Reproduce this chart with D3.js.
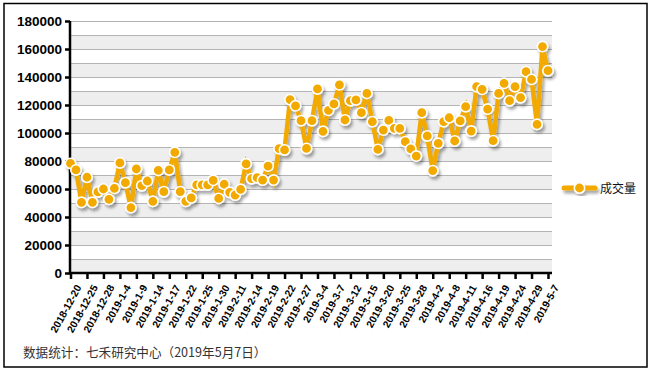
<!DOCTYPE html>
<html><head><meta charset="utf-8">
<script src="https://cdn.jsdelivr.net/npm/d3@7/dist/d3.min.js"></script>
<style>
html,body{margin:0;padding:0;background:#fff;}
svg{display:block;}
</style></head>
<body>
<script>
const dates = [
"2018-12-20","2018-12-21","2018-12-24","2018-12-25","2018-12-26","2018-12-27","2018-12-28",
"2019-1-2","2019-1-3","2019-1-4","2019-1-7","2019-1-8","2019-1-9","2019-1-10","2019-1-11",
"2019-1-14","2019-1-15","2019-1-16","2019-1-17","2019-1-18","2019-1-21","2019-1-22","2019-1-23",
"2019-1-24","2019-1-25","2019-1-28","2019-1-29","2019-1-30","2019-1-31",
"2019-2-1","2019-2-11","2019-2-12","2019-2-13","2019-2-14","2019-2-15","2019-2-18","2019-2-19",
"2019-2-20","2019-2-21","2019-2-22","2019-2-25","2019-2-26","2019-2-27","2019-2-28",
"2019-3-1","2019-3-4","2019-3-5","2019-3-6","2019-3-7","2019-3-8","2019-3-11","2019-3-12",
"2019-3-13","2019-3-14","2019-3-15","2019-3-18","2019-3-19","2019-3-20","2019-3-21","2019-3-22",
"2019-3-25","2019-3-26","2019-3-27","2019-3-28","2019-3-29",
"2019-4-1","2019-4-2","2019-4-3","2019-4-4","2019-4-8","2019-4-9","2019-4-10","2019-4-11",
"2019-4-12","2019-4-15","2019-4-16","2019-4-17","2019-4-18","2019-4-19","2019-4-22","2019-4-23",
"2019-4-24","2019-4-25","2019-4-26","2019-4-29","2019-4-30",
"2019-5-6","2019-5-7"];

const volume = [
78300,73600,50500,68400,50500,57900,60000,
52600,60500,78600,64500,46700,74300,62400,65700,
51200,73300,58100,73600,86200,58100,51200,53600,
62900,62900,62900,66200,53300,63400,
57600,55700,59800,78000,67400,68100,66400,76400,
66400,88800,87900,123800,119400,108800,89000,
108800,131500,101200,116200,120800,134400,109300,123100,
123600,114500,128300,108100,88300,102100,109000,103300,
103300,93800,88600,83500,114500,
97900,73100,92600,108100,110900,94300,108600,118800,
101400,133100,131200,117100,94500,128300,135500,123100,
133100,125200,143800,138300,106200,
161700,144500];

const yTicks = [0,20000,40000,60000,80000,100000,120000,140000,160000,180000];
const gridValues = d3.range(0, 180001, 10000);
const seriesName = "成交量";
const footnote = "数据统计：七禾研究中心（2019年5月7日）";

const W = 649, H = 370;
const svg = d3.select("body").append("svg").attr("width", W).attr("height", H);

const defs = svg.append("defs");
const f = defs.append("filter").attr("id","sh").attr("x","-20%").attr("y","-20%").attr("width","140%").attr("height","140%");
f.append("feDropShadow").attr("dx",2).attr("dy",3).attr("stdDeviation",1.6)
 .attr("flood-color","#000").attr("flood-opacity",0.35);

svg.append("rect").attr("x",4).attr("y",3.5).attr("width",643).attr("height",363.5)
  .attr("fill","#fff").attr("stroke","#000").attr("stroke-width",1.5);

const pLeft = 70, pRight = 552, pTop = 21, pBottom = 273;
const y = d3.scaleLinear().domain([0,180000]).range([pBottom, pTop]);
const x = d3.scalePoint().domain(dates).range([70.5, 548]);

// bands
const bands = svg.append("g");
gridValues.slice(0,-1).forEach((v,i)=>{
  if (i % 2 === 0) {
    bands.append("rect").attr("x",pLeft).attr("width",pRight-pLeft)
      .attr("y",y(v+10000)).attr("height",y(v)-y(v+10000)).attr("fill","#eeeeee");
  }
});
svg.append("g").selectAll("line").data(gridValues).join("line")
  .attr("x1",pLeft).attr("x2",pRight).attr("y1",d=>y(d)+0.5).attr("y2",d=>y(d)+0.5)
  .attr("stroke","#b4b4b4").attr("stroke-width",1);

// y axis
const yAxis = svg.append("g").attr("transform",`translate(${pLeft},0)`)
  .call(d3.axisLeft(y).tickValues(yTicks).tickSize(5).tickPadding(3).tickFormat(d3.format("d")));
yAxis.select(".domain").attr("stroke","#000").attr("stroke-width",2.5).attr("d",`M0,${pTop}V${pBottom}`);
yAxis.selectAll(".tick line").attr("stroke","#000").attr("stroke-width",2.5);
yAxis.selectAll("text").attr("font-family","Liberation Sans, Arial, sans-serif")
  .attr("font-weight","bold").attr("font-size","13.5px").attr("fill","#000");

// x axis
const tickDates = dates.filter((d,i)=>i%3===0);
const xAxis = svg.append("g").attr("transform",`translate(0,${pBottom})`)
  .call(d3.axisBottom(x).tickValues(tickDates).tickSize(6).tickPadding(3));
xAxis.select(".domain").attr("stroke","#000").attr("stroke-width",2.5).attr("d",`M${pLeft-1},0H${pRight}`);
xAxis.selectAll(".tick line").attr("stroke","#000").attr("stroke-width",2.5);
xAxis.selectAll("text").attr("font-family","Liberation Sans, Arial, sans-serif")
  .attr("font-weight","bold").attr("font-size","10.3px").attr("fill","#000")
  .attr("text-anchor","end").attr("dy","0").attr("dx","0")
  .attr("transform","translate(3,10) rotate(-61)");

// series
const orange = "#f2a900";
const g = svg.append("g").attr("filter","url(#sh)");
g.append("path").datum(volume)
  .attr("d", d3.line().x((d,i)=>x(dates[i])).y(d=>y(d)))
  .attr("fill","none").attr("stroke",orange).attr("stroke-width",4.5).attr("stroke-linejoin","miter");
g.selectAll("circle").data(volume).join("circle")
  .attr("cx",(d,i)=>x(dates[i])).attr("cy",d=>y(d)).attr("r",5.2)
  .attr("fill",orange).attr("stroke","#fff").attr("stroke-width",1.6);

// legend
const lg = svg.append("g");
const lgi = lg.append("g").attr("filter","url(#sh)");
lgi.append("line").attr("x1",564).attr("x2",595).attr("y1",188).attr("y2",188)
  .attr("stroke",orange).attr("stroke-width",5).attr("stroke-linecap","round");
lgi.append("circle").attr("cx",579.5).attr("cy",188).attr("r",5.2).attr("fill",orange)
  .attr("stroke","#fff").attr("stroke-width",1.6);
lg.append("text").attr("x",600).attr("y",192.5).text(seriesName)
  .attr("font-family","Noto Sans CJK SC, sans-serif").attr("font-size","12px").attr("fill","#111");

svg.append("text").attr("x",23).attr("y",357).text(footnote)
  .attr("font-family","Noto Sans CJK SC, sans-serif").attr("font-size","12.6px").attr("fill","#333");
</script>
</body></html>
